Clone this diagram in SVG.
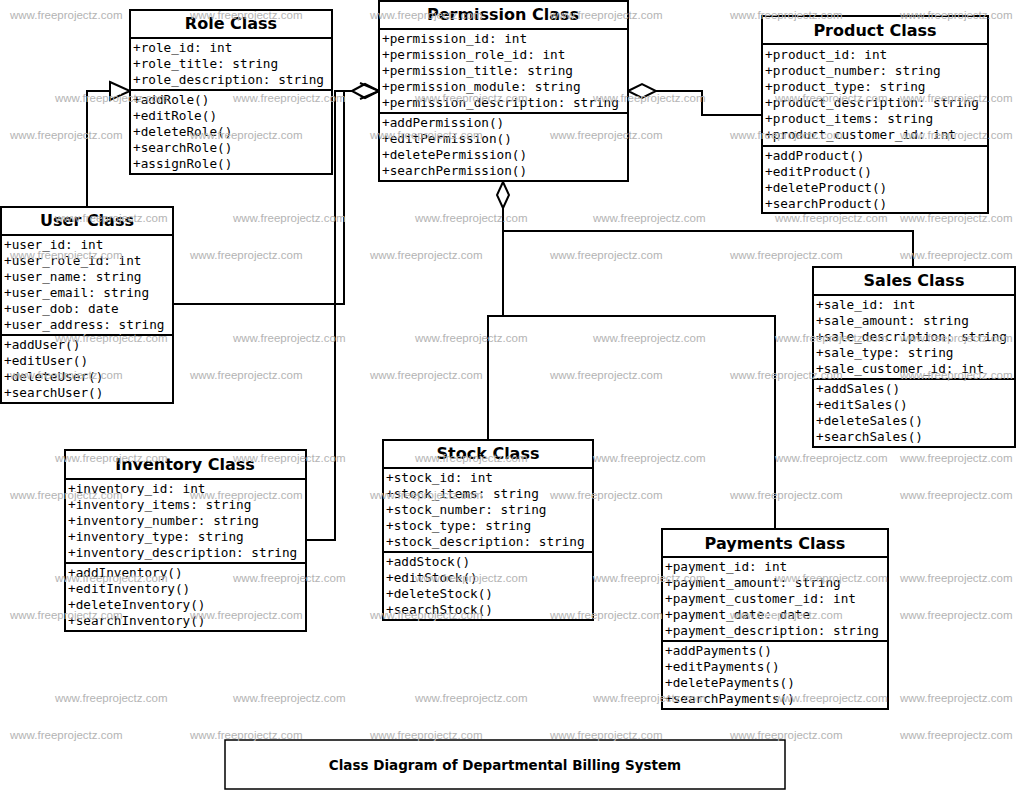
<svg xmlns="http://www.w3.org/2000/svg" width="1018" height="792" viewBox="0 0 1018 792">
<style>
.b{fill:#fff;stroke:#000;stroke-width:2}
.s{stroke:#000;stroke-width:2;fill:none}
.h{font-family:"DejaVu Sans",sans-serif;font-weight:bold;font-size:16px;text-anchor:middle}
.t{font-family:"DejaVu Sans Mono",monospace;font-size:12.7px}
.w{font-family:"Liberation Sans",Arial,sans-serif;font-size:11.5px;fill:#b4b4b4}
.c{fill:none;stroke:#000;stroke-width:2}
.d{fill:#fff;stroke:#000;stroke-width:2}
</style>
<rect width="1018" height="792" fill="#fff"/>
<g id="connectors">
<polyline class="c" points="87,207 87,91 110,91"/>
<polygon class="d" points="110,82 130,91 110,100"/>
<polyline class="c" points="173,304 344,304 344,91 352,91"/>
<polyline class="c" points="306,540 335,540 335,91 352,91"/>
<polygon class="d" points="352,91 365,84 379,91 365,98"/>
<polyline class="c" points="360,83 379,91 360,99"/>
<polyline class="c" points="762,115 702,115 702,91 656,91"/>
<polygon class="d" points="628,91 642,84 656,91 642,98"/>
<polygon class="d" points="503,182 509,195 503,208 497,195"/>
<polyline class="c" points="503,208 503,231 913,231 913,267"/>
<polyline class="c" points="503,231 503,316 488,316 488,440"/>
<polyline class="c" points="503,316 775,316 775,529"/>
</g>
<g id="role">
<rect class="b" x="130" y="10" width="202" height="164"/>
<line class="s" x1="130" y1="38" x2="332" y2="38"/><line class="s" x1="130" y1="90" x2="332" y2="90"/>
<text class="h" x="231" y="29">Role Class</text>
<text class="t" x="133" y="52">+role_id: int</text><text class="t" x="133" y="68">+role_title: string</text><text class="t" x="133" y="84">+role_description: string</text>
<text class="t" x="133" y="104">+addRole()</text><text class="t" x="133" y="120">+editRole()</text><text class="t" x="133" y="136">+deleteRole()</text><text class="t" x="133" y="152">+searchRole()</text><text class="t" x="133" y="168">+assignRole()</text>
</g>
<g id="permission">
<rect class="b" x="379" y="1" width="249" height="180"/>
<line class="s" x1="379" y1="29" x2="628" y2="29"/><line class="s" x1="379" y1="113" x2="628" y2="113"/>
<text class="h" x="503" y="20">Permission Class</text>
<text class="t" x="382" y="43">+permission_id: int</text><text class="t" x="382" y="59">+permission_role_id: int</text><text class="t" x="382" y="75">+permission_title: string</text><text class="t" x="382" y="91">+permission_module: string</text><text class="t" x="382" y="107">+permission_description: string</text>
<text class="t" x="382" y="127">+addPermission()</text><text class="t" x="382" y="143">+editPermission()</text><text class="t" x="382" y="159">+deletePermission()</text><text class="t" x="382" y="175">+searchPermission()</text>
</g>
<g id="product">
<rect class="b" x="762" y="16" width="226" height="197"/>
<line class="s" x1="762" y1="44" x2="988" y2="44"/><line class="s" x1="762" y1="146" x2="988" y2="146"/>
<text class="h" x="875" y="36">Product Class</text>
<text class="t" x="765" y="59">+product_id: int</text><text class="t" x="765" y="75">+product_number: string</text><text class="t" x="765" y="91">+product_type: string</text><text class="t" x="765" y="107">+product_description: string</text><text class="t" x="765" y="123">+product_items: string</text><text class="t" x="765" y="139">+product_customer_id: int</text>
<text class="t" x="765" y="160">+addProduct()</text><text class="t" x="765" y="176">+editProduct()</text><text class="t" x="765" y="192">+deleteProduct()</text><text class="t" x="765" y="208">+searchProduct()</text>
</g>
<g id="user">
<rect class="b" x="1" y="207" width="172" height="196"/>
<line class="s" x1="1" y1="235" x2="173" y2="235"/><line class="s" x1="1" y1="335" x2="173" y2="335"/>
<text class="h" x="87" y="226">User Class</text>
<text class="t" x="4" y="249">+user_id: int</text><text class="t" x="4" y="265">+user_role_id: int</text><text class="t" x="4" y="281">+user_name: string</text><text class="t" x="4" y="297">+user_email: string</text><text class="t" x="4" y="313">+user_dob: date</text><text class="t" x="4" y="329">+user_address: string</text>
<text class="t" x="4" y="349">+addUser()</text><text class="t" x="4" y="365">+editUser()</text><text class="t" x="4" y="381">+deleteUser()</text><text class="t" x="4" y="397">+searchUser()</text>
</g>
<g id="sales">
<rect class="b" x="813" y="267" width="202" height="180"/>
<line class="s" x1="813" y1="295" x2="1015" y2="295"/><line class="s" x1="813" y1="379" x2="1015" y2="379"/>
<text class="h" x="914" y="286">Sales Class</text>
<text class="t" x="816" y="309">+sale_id: int</text><text class="t" x="816" y="325">+sale_amount: string</text><text class="t" x="816" y="341">+sale_description: string</text><text class="t" x="816" y="357">+sale_type: string</text><text class="t" x="816" y="373">+sale_customer_id: int</text>
<text class="t" x="816" y="393">+addSales()</text><text class="t" x="816" y="409">+editSales()</text><text class="t" x="816" y="425">+deleteSales()</text><text class="t" x="816" y="441">+searchSales()</text>
</g>
<g id="inventory">
<rect class="b" x="65" y="450" width="241" height="181"/>
<line class="s" x1="65" y1="479" x2="306" y2="479"/><line class="s" x1="65" y1="563" x2="306" y2="563"/>
<text class="h" x="185" y="470">Inventory Class</text>
<text class="t" x="68" y="493">+inventory_id: int</text><text class="t" x="68" y="509">+inventory_items: string</text><text class="t" x="68" y="525">+inventory_number: string</text><text class="t" x="68" y="541">+inventory_type: string</text><text class="t" x="68" y="557">+inventory_description: string</text>
<text class="t" x="68" y="577">+addInventory()</text><text class="t" x="68" y="593">+editInventory()</text><text class="t" x="68" y="609">+deleteInventory()</text><text class="t" x="68" y="625">+searchInventory()</text>
</g>
<g id="stock">
<rect class="b" x="383" y="440" width="210" height="180"/>
<line class="s" x1="383" y1="468" x2="593" y2="468"/><line class="s" x1="383" y1="552" x2="593" y2="552"/>
<text class="h" x="488" y="459">Stock Class</text>
<text class="t" x="386" y="482">+stock_id: int</text><text class="t" x="386" y="498">+stock_items: string</text><text class="t" x="386" y="514">+stock_number: string</text><text class="t" x="386" y="530">+stock_type: string</text><text class="t" x="386" y="546">+stock_description: string</text>
<text class="t" x="386" y="566">+addStock()</text><text class="t" x="386" y="582">+editStock()</text><text class="t" x="386" y="598">+deleteStock()</text><text class="t" x="386" y="614">+searchStock()</text>
</g>
<g id="payments">
<rect class="b" x="662" y="529" width="226" height="180"/>
<line class="s" x1="662" y1="557" x2="888" y2="557"/><line class="s" x1="662" y1="641" x2="888" y2="641"/>
<text class="h" x="775" y="549">Payments Class</text>
<text class="t" x="665" y="571">+payment_id: int</text><text class="t" x="665" y="587">+payment_amount: string</text><text class="t" x="665" y="603">+payment_customer_id: int</text><text class="t" x="665" y="619">+payment_date: date</text><text class="t" x="665" y="635">+payment_description: string</text>
<text class="t" x="665" y="655">+addPayments()</text><text class="t" x="665" y="671">+editPayments()</text><text class="t" x="665" y="687">+deletePayments()</text><text class="t" x="665" y="703">+searchPayments()</text>
</g>
<g id="title">
<rect x="225" y="740" width="560" height="49" fill="#fff" stroke="#000" stroke-width="1.5"/>
<text x="505" y="770" style="font-family:'DejaVu Sans',sans-serif;font-weight:bold;font-size:13.5px;text-anchor:middle">Class Diagram of Departmental Billing System</text>
</g>
<g id="watermarks" class="w">
<text x="10" y="19">www.freeprojectz.com</text><text x="190" y="19">www.freeprojectz.com</text><text x="370" y="19">www.freeprojectz.com</text><text x="550" y="19">www.freeprojectz.com</text><text x="730" y="19">www.freeprojectz.com</text><text x="900" y="19">www.freeprojectz.com</text>
<text x="10" y="139">www.freeprojectz.com</text><text x="190" y="139">www.freeprojectz.com</text><text x="370" y="139">www.freeprojectz.com</text><text x="550" y="139">www.freeprojectz.com</text><text x="730" y="139">www.freeprojectz.com</text><text x="900" y="139">www.freeprojectz.com</text>
<text x="10" y="259">www.freeprojectz.com</text><text x="190" y="259">www.freeprojectz.com</text><text x="370" y="259">www.freeprojectz.com</text><text x="550" y="259">www.freeprojectz.com</text><text x="730" y="259">www.freeprojectz.com</text><text x="900" y="259">www.freeprojectz.com</text>
<text x="10" y="379">www.freeprojectz.com</text><text x="190" y="379">www.freeprojectz.com</text><text x="370" y="379">www.freeprojectz.com</text><text x="550" y="379">www.freeprojectz.com</text><text x="730" y="379">www.freeprojectz.com</text><text x="900" y="379">www.freeprojectz.com</text>
<text x="10" y="499">www.freeprojectz.com</text><text x="190" y="499">www.freeprojectz.com</text><text x="370" y="499">www.freeprojectz.com</text><text x="550" y="499">www.freeprojectz.com</text><text x="730" y="499">www.freeprojectz.com</text><text x="900" y="499">www.freeprojectz.com</text>
<text x="10" y="619">www.freeprojectz.com</text><text x="190" y="619">www.freeprojectz.com</text><text x="370" y="619">www.freeprojectz.com</text><text x="550" y="619">www.freeprojectz.com</text><text x="730" y="619">www.freeprojectz.com</text><text x="900" y="619">www.freeprojectz.com</text>
<text x="10" y="739">www.freeprojectz.com</text><text x="190" y="739">www.freeprojectz.com</text><text x="370" y="739">www.freeprojectz.com</text><text x="550" y="739">www.freeprojectz.com</text><text x="730" y="739">www.freeprojectz.com</text><text x="900" y="739">www.freeprojectz.com</text>
<text x="55" y="102">www.freeprojectz.com</text><text x="233" y="102">www.freeprojectz.com</text><text x="415" y="102">www.freeprojectz.com</text><text x="593" y="102">www.freeprojectz.com</text><text x="775" y="102">www.freeprojectz.com</text><text x="900" y="102">www.freeprojectz.com</text>
<text x="55" y="222">www.freeprojectz.com</text><text x="233" y="222">www.freeprojectz.com</text><text x="415" y="222">www.freeprojectz.com</text><text x="593" y="222">www.freeprojectz.com</text><text x="775" y="222">www.freeprojectz.com</text><text x="900" y="222">www.freeprojectz.com</text>
<text x="55" y="342">www.freeprojectz.com</text><text x="233" y="342">www.freeprojectz.com</text><text x="415" y="342">www.freeprojectz.com</text><text x="593" y="342">www.freeprojectz.com</text><text x="775" y="342">www.freeprojectz.com</text><text x="900" y="342">www.freeprojectz.com</text>
<text x="55" y="462">www.freeprojectz.com</text><text x="233" y="462">www.freeprojectz.com</text><text x="415" y="462">www.freeprojectz.com</text><text x="593" y="462">www.freeprojectz.com</text><text x="775" y="462">www.freeprojectz.com</text><text x="900" y="462">www.freeprojectz.com</text>
<text x="55" y="582">www.freeprojectz.com</text><text x="233" y="582">www.freeprojectz.com</text><text x="415" y="582">www.freeprojectz.com</text><text x="593" y="582">www.freeprojectz.com</text><text x="775" y="582">www.freeprojectz.com</text><text x="900" y="582">www.freeprojectz.com</text>
<text x="55" y="702">www.freeprojectz.com</text><text x="233" y="702">www.freeprojectz.com</text><text x="415" y="702">www.freeprojectz.com</text><text x="593" y="702">www.freeprojectz.com</text><text x="775" y="702">www.freeprojectz.com</text><text x="900" y="702">www.freeprojectz.com</text>
</g>
</svg>
